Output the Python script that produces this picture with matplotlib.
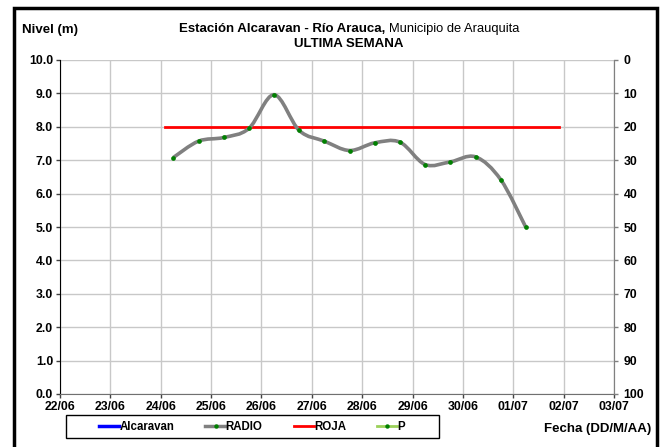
import numpy as np
import matplotlib.pyplot as plt
import matplotlib.dates as mdates
from matplotlib.path import Path
from matplotlib.patches import PathPatch, Rectangle
from matplotlib.lines import Line2D
from datetime import datetime

plt.rcParams['font.family'] = ['Liberation Sans', 'DejaVu Sans']

# ----- Data -----
radio_times = ["2014-06-24 06:00", "2014-06-24 18:00", "2014-06-25 06:00", "2014-06-25 18:00",
               "2014-06-26 06:00", "2014-06-26 18:00", "2014-06-27 06:00", "2014-06-27 18:00",
               "2014-06-28 06:00", "2014-06-28 18:00", "2014-06-29 06:00", "2014-06-29 18:00",
               "2014-06-30 06:00", "2014-06-30 18:00", "2014-07-01 06:00"]
radio_level = [7.08, 7.57, 7.68, 7.95, 8.96, 7.89, 7.57, 7.29, 7.52, 7.54, 6.87, 6.95, 7.10, 6.42, 4.99]

roja_times = ["2014-06-24 02:00", "2014-07-01 22:00"]
roja_level = [8.0, 8.0]

x_ticks = ["2014-06-22", "2014-06-23", "2014-06-24", "2014-06-25", "2014-06-26", "2014-06-27",
           "2014-06-28", "2014-06-29", "2014-06-30", "2014-07-01", "2014-07-02", "2014-07-03"]
left_ticks = np.arange(0, 10.5, 1.0)
right_ticks = np.arange(0, 101, 10)


def to_num(ts):
    return mdates.date2num([datetime.fromisoformat(t) for t in ts])


def smooth_path(x, y):
    """Excel-like smoothed line as cubic bezier segments."""
    pts = np.column_stack([x, y])
    n = len(pts)
    verts = [pts[0]]
    codes = [Path.MOVETO]
    for i in range(n - 1):
        p0 = pts[i - 1] if i > 0 else pts[i]
        p1 = pts[i]
        p2 = pts[i + 1]
        p3 = pts[i + 2] if i + 2 < n else pts[i + 1]
        c1 = p1 + (p2 - p0) / 6.0
        c2 = p2 - (p3 - p1) / 6.0
        verts += [c1, c2, p2]
        codes += [Path.CURVE4] * 3
    return Path(verts, codes)


W, H = 663, 447
fig = plt.figure(figsize=(W / 100, H / 100), dpi=100)
ax = fig.add_axes([60 / W, 1 - 394 / H, 554 / W, 334 / H])

xr = to_num(radio_times)
xt = to_num(x_ticks)

ax.plot(to_num(roja_times), roja_level, color="#ff0000", lw=2, zorder=3)
ax.add_patch(PathPatch(smooth_path(xr, radio_level), fill=False, edgecolor="#808080", lw=2.6, zorder=4))
ax.plot(xr, radio_level, ls="none", marker="o", ms=3.4, mew=0, color="#008000", zorder=5)

ax.set_xlim(xt[0], xt[-1])
ax.set_ylim(0, 10)
ax.set_xticks(xt)
ax.set_xticklabels([datetime.fromisoformat(t).strftime("%d/%m") for t in x_ticks],
                   fontsize=8.8, fontweight="bold")
ax.set_yticks(left_ticks)
ax.set_yticklabels([f"{v:.1f}" for v in left_ticks], fontsize=8.8, fontweight="bold")
ax.grid(True, color="#c8c8c8", lw=1)
ax.set_axisbelow(True)
ax.tick_params(length=3, width=1, color="#404040", pad=2)

ax.spines["top"].set_visible(False)
ax.spines["left"].set_color("#000000")
ax.spines["bottom"].set_color("#707070")
ax.spines["right"].set_color("#808080")

ax2 = ax.twinx()
ax2.set_ylim(100, 0)
ax2.set_yticks(right_ticks)
ax2.set_yticklabels([str(v) for v in right_ticks], fontsize=8.8, fontweight="bold")
ax2.tick_params(length=3, width=1, color="#808080", pad=4)
for s in ["top", "left", "bottom"]:
    ax2.spines[s].set_visible(False)
ax2.spines["right"].set_color("#808080")

# ----- Texts -----
fig.text(50 / W, 1 - 30 / H, "Nivel (m)", fontsize=9.5, fontweight="bold", ha="center", va="center")
fig.text(385 / W, 1 - 29 / H, "Estación Alcaravan - Río Arauca,", fontsize=9.5,
         fontweight="bold", ha="right", va="center")
fig.text(389 / W, 1 - 29 / H, "Municipio de Arauquita", fontsize=9.3, ha="left", va="center")
fig.text(349 / W, 1 - 44 / H, "ULTIMA SEMANA", fontsize=9.5, fontweight="bold", ha="center", va="center")
fig.text(598 / W, 1 - 429 / H, "Fecha (DD/M/AA)", fontsize=9.5, fontweight="bold", ha="center", va="center")

# ----- Legend -----
handles = [
    Line2D([], [], color="#0000ff", lw=2.5),
    Line2D([], [], color="#808080", lw=2.5, marker="o", ms=3.2, mew=0, mfc="#008000"),
    Line2D([], [], color="#ff0000", lw=2),
    Line2D([], [], color="#9bd05a", lw=2, marker="o", ms=3.2, mew=0, mfc="#008000"),
]
labels = ["Alcaravan", "RADIO", "ROJA", "P"]
fig.legend(handles, labels, ncol=4, loc="center", bbox_to_anchor=(252 / W, 1 - 427 / H),
           prop={"size": 8.3, "weight": "bold"}, frameon=False,
           handlelength=1.75, handletextpad=0.0, columnspacing=2.7, borderpad=0.2)
fig.patches.append(Rectangle((66 / W, 1 - 438 / H), (439 - 66) / W, 23 / H,
                             transform=fig.transFigure, fill=False, edgecolor="#000000", lw=1))

# outer border
fig.patches.append(Rectangle((13.5 / W, -0.05), (657 - 13.5) / W, 1.05 - 7.5 / H,
                             transform=fig.transFigure, fill=False, edgecolor="#000000", lw=2.5))

fig.savefig("out.png", dpi=100)
